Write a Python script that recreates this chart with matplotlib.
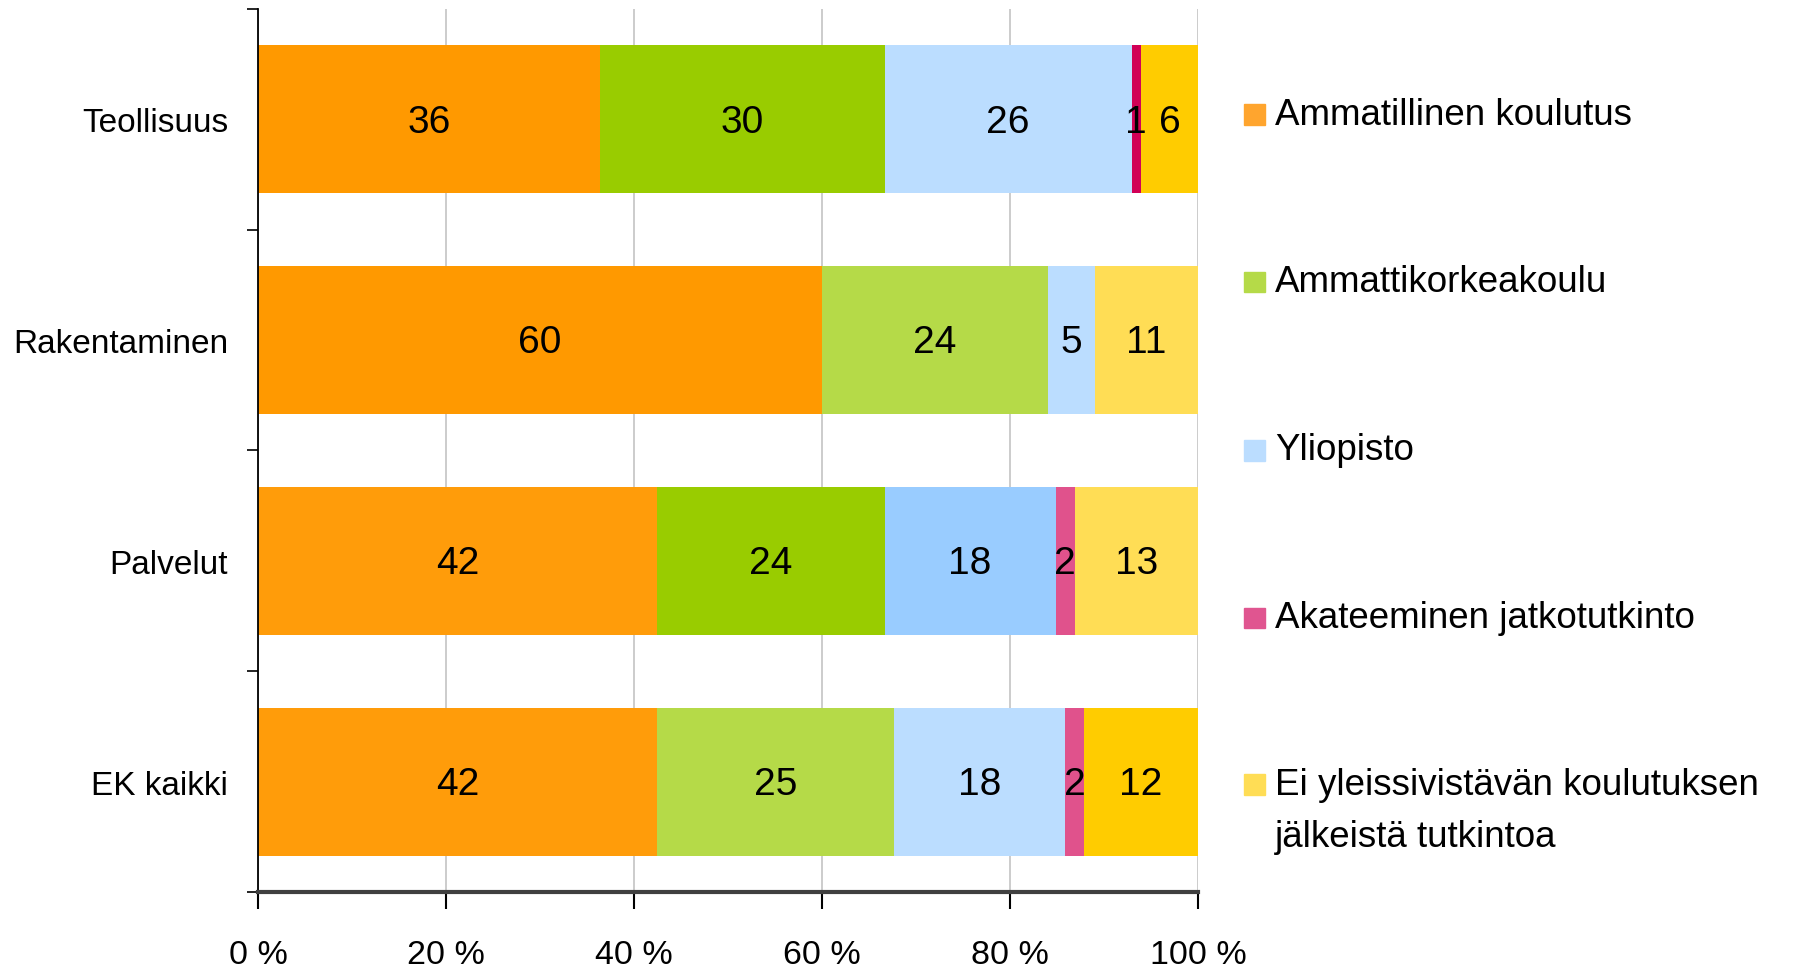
import matplotlib.pyplot as plt
from matplotlib.patches import Rectangle
import numpy as np

plt.rcParams['font.family'] = ['Liberation Sans', 'DejaVu Sans']

categories = ['Teollisuus', 'Rakentaminen', 'Palvelut', 'EK kaikki']
series = ['Ammatillinen koulutus', 'Ammattikorkeakoulu', 'Yliopisto',
          'Akateeminen jatkotutkinto',
          'Ei yleissivistävän koulutuksen\njälkeistä tutkintoa']
ammatillinen = [36, 60, 42, 42]
amk = [30, 24, 24, 25]
yliopisto = [26, 5, 18, 18]
jatko = [1, 0, 2, 2]
ei_tutkintoa = [6, 11, 13, 12]
xticklabels = ['0 %', '20 %', '40 %', '60 %', '80 %', '100 %']

# colours per segment (the original bars were shaded a bit differently)
colors = [
    ['#FF9900', '#FF9900', '#FF9C0A', '#FF9C0A'],
    ['#99CC00', '#B5DA48', '#99CC00', '#B5DA48'],
    ['#BBDDFF', '#BBDDFF', '#99CCFF', '#BBDDFF'],
    ['#D10056', '#E0528C', '#E0528C', '#E0528C'],
    ['#FFCC00', '#FFDD55', '#FFDD55', '#FFCC00'],
]
legend_colors = ['#FFA52E', '#B5DA48', '#BBDDFF', '#E05590', '#FFDD55']

data = np.array([ammatillinen, amk, yliopisto, jatko, ei_tutkintoa], dtype=float)
pct = data / data.sum(axis=0) * 100

fig = plt.figure(figsize=(17.98, 9.70), dpi=100)
ax = fig.add_axes([0.1435, 0.0794, 0.5228, 0.9103])

y = np.arange(len(categories))
left = np.zeros(len(categories))
for i in range(len(series)):
    ax.barh(y, pct[i], left=left, height=0.67, color=colors[i], zorder=2)
    for j in range(len(categories)):
        if data[i, j] > 0:
            ax.text(left[j] + pct[i, j] / 2, y[j] + 0.01, f'{int(data[i, j])}',
                    ha='center', va='center', fontsize=28, zorder=3)
    left += pct[i]

ax.set_xlim(0, 100)
ax.set_ylim(3.5, -0.5)
ax.set_xticks(np.arange(0, 101, 20))
ax.set_xticklabels(xticklabels, fontsize=24.5)
ax.tick_params(axis='x', length=12, width=1.5, pad=22)
ax.set_yticks(y)
ax.set_yticklabels(categories, fontsize=24)
ax.tick_params(axis='y', which='major', length=0, pad=21.5)
ax.set_yticks(np.arange(-0.5, 4, 1), minor=True)
ax.tick_params(axis='y', which='minor', length=8, width=1.2)
ax.grid(axis='x', color='#C8C8C8', linewidth=1.3, zorder=0)
ax.spines['top'].set_visible(False)
ax.spines['right'].set_visible(False)
ax.spines['left'].set_linewidth(1.3)
ax.spines['bottom'].set_linewidth(3)
ax.spines['bottom'].set_color('#404040')

# legend on the right, drawn by hand in figure coordinates
ys = [0.8814, 0.7088, 0.5351, 0.3624, 0.1907]
line_gap = 0.0546
for k in range(len(series)):
    fig.patches.append(Rectangle((0.6920, ys[k] - 0.011), 0.0115, 0.021,
                                 transform=fig.transFigure, color=legend_colors[k]))
    for n, line in enumerate(series[k].split('\n')):
        fig.text(0.7090, ys[k] - n * line_gap, line, fontsize=26.5, va='center')

fig.savefig('out.png', dpi=100)
